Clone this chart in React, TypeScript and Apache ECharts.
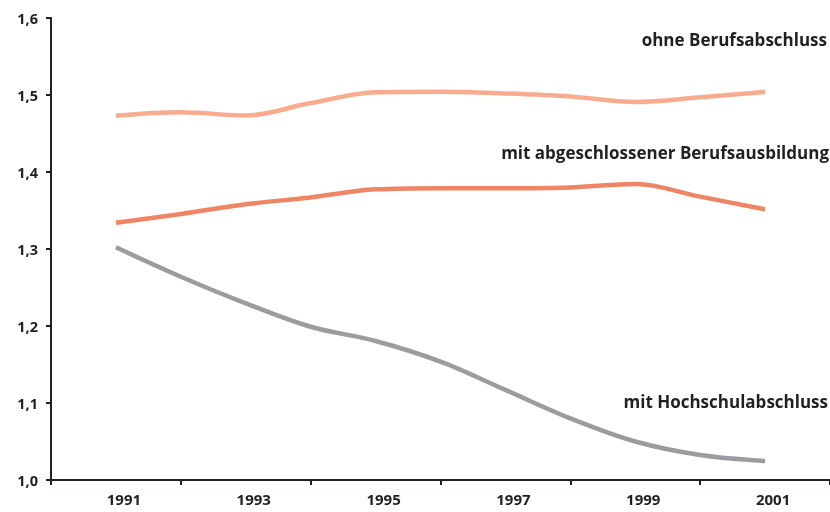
import React, { useEffect, useRef } from "react";
import * as echarts from "echarts";

const years = ["1990", "1991", "1992", "1993", "1994", "1995", "1996", "1997", "1998", "1999", "2000", "2001", "2002"];
const ohneBerufsabschluss = [null, 1.473, 1.4775, 1.4735, 1.4895, 1.5035, 1.5043, 1.502, 1.498, 1.491, 1.497, 1.504, null];
const mitBerufsausbildung = [null, 1.3342, 1.3455, 1.358, 1.367, 1.3775, 1.379, 1.379, 1.380, 1.3844, 1.368, 1.3515, null];
const mitHochschulabschluss = [null, 1.3022, 1.264, 1.2295, 1.199, 1.1805, 1.1537, 1.117, 1.080, 1.050, 1.0325, 1.0247, null];
const seriesNames = ["ohne Berufsabschluss", "mit abgeschlossener Berufsausbildung", "mit Hochschulabschluss"];

const FONT = "'Open Sans', 'Noto Sans', sans-serif";

export default function App() {
  const ref = useRef<HTMLDivElement>(null);
  useEffect(() => {
    const chart = echarts.init(ref.current!, null, { renderer: "svg" });
    const lineSeries = (name: string, data: (number | null)[], color: string) => ({
      type: "line",
      name,
      data,
      smooth: 0.35,
      showSymbol: false,
      symbol: "none",
      lineStyle: { color, width: 4.5, cap: "butt" },
      itemStyle: { color },
    });
    chart.setOption({
      animation: false,
      grid: { left: 51, right: 0, top: 18, bottom: 32, containLabel: false },
      xAxis: {
        type: "category",
        data: years,
        boundaryGap: false,
        axisLine: { show: true, lineStyle: { color: "#231f20", width: 2 } },
        axisTick: {
          show: true,
          length: 5,
          interval: (i: number) => i % 2 === 0,
          lineStyle: { color: "#231f20", width: 2 },
        },
        axisLabel: {
          interval: (i: number) => i % 2 === 1,
          color: "#231f20",
          fontFamily: FONT,
          fontWeight: "bold",
          fontSize: 15,
          margin: 11,
          padding: [0, 0, 0, 16],
        },
        splitLine: { show: false },
      },
      yAxis: {
        type: "value",
        min: 1,
        max: 1.6,
        interval: 0.1,
        axisLine: { show: true, lineStyle: { color: "#231f20", width: 2 } },
        axisTick: { show: true, length: 5, lineStyle: { color: "#231f20", width: 2 } },
        axisLabel: {
          color: "#231f20",
          fontFamily: FONT,
          fontWeight: "bold",
          fontSize: 14.5,
          margin: 13,
          formatter: (v: number) => v.toFixed(1).replace(".", ","),
        },
        splitLine: { show: false },
      },
      series: [
        lineSeries(seriesNames[0], ohneBerufsabschluss, "#F9AB8F"),
        lineSeries(seriesNames[1], mitBerufsausbildung, "#F08566"),
        lineSeries(seriesNames[2], mitHochschulabschluss, "#9B9BA0"),
      ],
      graphic: [
        { name: seriesNames[0], y: 42, right: 3 },
        { name: seriesNames[1], y: 155, right: 1 },
        { name: seriesNames[2], y: 404, right: 2 },
      ].map((g) => ({
        type: "text",
        right: g.right,
        top: g.y - 11,
        style: {
          text: g.name,
          fill: "#231f20",
          font: `bold 17px ${FONT}`,
        },
      })),
    });
    return () => chart.dispose();
  }, []);
  return <div ref={ref} style={{ position: "fixed", left: 0, top: 0, width: 830, height: 512 }} />;
}
